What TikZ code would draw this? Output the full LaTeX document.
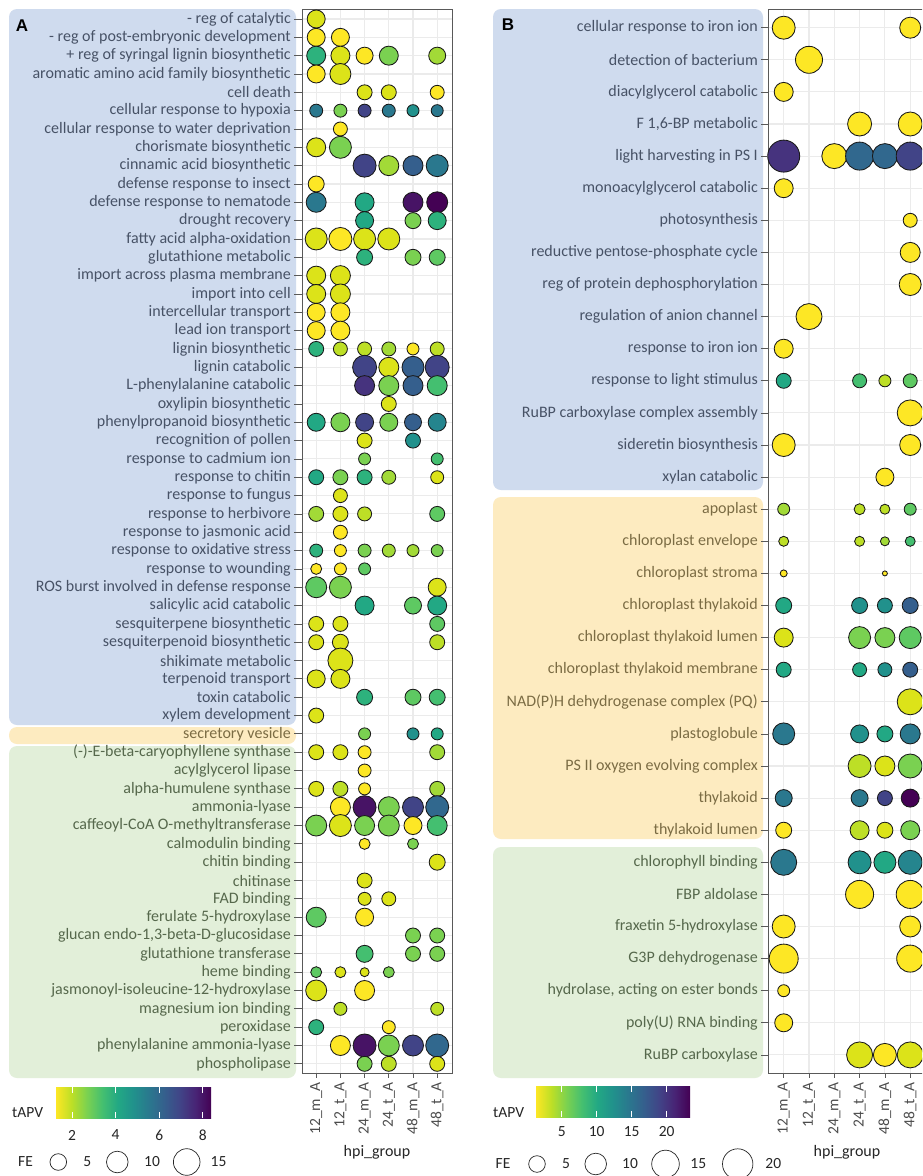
\documentclass[tikz,border=0pt]{standalone}
\usepackage{fontspec}
\setmainfont{Carlito}
\newfontfamily\letterfont{Liberation Sans}
\usepackage{xcolor}
\usepackage{tikz}

\definecolor{v0}{HTML}{FDE725}
\definecolor{vq}{HTML}{DCE319}
\definecolor{v1}{HTML}{BDDF26}
\definecolor{vr}{HTML}{A2DA37}
\definecolor{v2}{HTML}{7AD151}
\definecolor{vs}{HTML}{5EC962}
\definecolor{v3}{HTML}{44BF70}
\definecolor{vt}{HTML}{2DB27D}
\definecolor{v4}{HTML}{22A884}
\definecolor{v5}{HTML}{21918C}
\definecolor{vu}{HTML}{25858E}
\definecolor{v6}{HTML}{2A788E}
\definecolor{vx}{HTML}{31688E}
\definecolor{v7}{HTML}{355F8D}
\definecolor{v8}{HTML}{414487}
\definecolor{vv}{HTML}{46337E}
\definecolor{v9}{HTML}{482475}
\definecolor{vw}{HTML}{471365}
\definecolor{v10}{HTML}{440154}
\definecolor{boxblue}{HTML}{CFDBEE}
\definecolor{boxyellow}{HTML}{FDEBC0}
\definecolor{boxgreen}{HTML}{E2EFD9}
\definecolor{txtblue}{HTML}{475266}
\definecolor{txtyellow}{HTML}{7B6C44}
\definecolor{txtgreen}{HTML}{56684C}
\definecolor{gridgray}{HTML}{EBEBEB}

\pgfdeclarehorizontalshading{viridisr}{100bp}{color(0bp)=(v0); color(25bp)=(v0); color(30bp)=(v1); color(35bp)=(v2); color(40bp)=(v3); color(45bp)=(v4); color(50bp)=(v5); color(55bp)=(v6); color(60bp)=(v7); color(65bp)=(v8); color(70bp)=(v9); color(75bp)=(v10); color(100bp)=(v10)}

\tikzset{bub/.style={circle,draw=black!90,line width=0.85pt,inner sep=0pt},
  key/.style={circle,draw=black!85,line width=0.7pt,inner sep=0pt},
  rowlbl/.style={anchor=east,inner sep=0pt,font=\fontsize{16}{18}\selectfont},
  grplbl/.style={rotate=90,anchor=east,inner sep=0pt,text=black!70,font=\fontsize{15.5}{17}\selectfont},
  lgd/.style={inner sep=0pt,text=black!85,font=\fontsize{15.5}{17}\selectfont},
  gridln/.style={gridgray,line width=1.1pt},
  tickln/.style={black!65,line width=0.8pt},
  frame/.style={draw=black!65,line width=0.8pt},
  band/.style={rounded corners=8pt}}

\newcommand{\bubA}[4]{\node[bub,fill=#4,minimum size=2*#3pt] (a-#1-#2) at ({292+24.2*#2},{0.67+18.33*#1}) {};}
\newcommand{\bubB}[4]{\node[bub,fill=#4,minimum size=2*#3pt] (b-#1-#2) at ({758.4+25.3*#2},{-4.4+32.1*#1}) {};}

\begin{document}
\begin{tikzpicture}[x=1pt,y=-1pt]
    \clip (0,0) rectangle (922,1176);
    \fill[white] (0,0) rectangle (922,1176);

    % group bands
    \fill[band,boxblue] (9,9) rectangle (296,725);
    \fill[band,boxyellow] (9,727) rectangle (296,744);
    \fill[band,boxgreen] (9,746) rectangle (296,1078);
    \fill[band,boxblue] (493,9) rectangle (763,490);
    \fill[band,boxyellow] (493,497) rectangle (763,839);
    \fill[band,boxgreen] (493,847) rectangle (763,1078);

    % grids
    \foreach \c in {1,...,6} \draw[gridln] ({292+24.2*\c},9) -- ({292+24.2*\c},1073);
    \foreach \r in {1,...,58} \draw[gridln] (302,{0.67+18.33*\r}) -- (452,{0.67+18.33*\r});
    \foreach \c in {1,...,6} \draw[gridln] ({758.4+25.3*\c},9) -- ({758.4+25.3*\c},1073);
    \foreach \r in {1,...,33} \draw[gridln] (768,{-4.4+32.1*\r}) -- (940,{-4.4+32.1*\r});
    \draw[frame] (302,9) rectangle (452,1073);
    \draw[frame] (768,9) rectangle (940,1073);

    % panel A bubbles
    \bubA{1}{1}{9}{vq}
    \bubA{2}{1}{9}{v0} \bubA{2}{2}{9}{v0}
    \bubA{3}{1}{9.5}{vt} \bubA{3}{2}{9.5}{vq} \bubA{3}{3}{8.5}{v0} \bubA{3}{4}{9.5}{v2} \bubA{3}{6}{8.5}{vr}
    \bubA{4}{1}{9}{v0} \bubA{4}{2}{10.5}{vq}
    \bubA{5}{3}{7.5}{vq} \bubA{5}{4}{7.5}{vq} \bubA{5}{6}{7}{v0}
    \bubA{6}{1}{6.5}{v6} \bubA{6}{2}{6.5}{v2} \bubA{6}{3}{6.5}{v8} \bubA{6}{4}{6.5}{v6} \bubA{6}{5}{6}{v5} \bubA{6}{6}{6}{v6}
    \bubA{7}{2}{7}{v0}
    \bubA{8}{1}{9.5}{vq} \bubA{8}{2}{11}{v2}
    \bubA{9}{3}{11.5}{v8} \bubA{9}{4}{10}{vr} \bubA{9}{5}{10}{v7} \bubA{9}{6}{11}{v6}
    \bubA{10}{1}{8}{v0}
    \bubA{11}{1}{10}{v6} \bubA{11}{3}{9.5}{v4} \bubA{11}{5}{10}{vw} \bubA{11}{6}{10.5}{v10}
    \bubA{12}{3}{9}{v4} \bubA{12}{5}{8}{v2} \bubA{12}{6}{9}{vt}
    \bubA{13}{1}{11}{vq} \bubA{13}{2}{11.5}{v0} \bubA{13}{3}{11}{vq} \bubA{13}{4}{11}{vq}
    \bubA{14}{3}{8}{vt} \bubA{14}{5}{8}{v2} \bubA{14}{6}{8}{vs}
    \bubA{15}{1}{9.5}{vq} \bubA{15}{2}{10}{vq}
    \bubA{16}{1}{9.5}{vq} \bubA{16}{2}{10}{vq}
    \bubA{17}{1}{9}{v0} \bubA{17}{2}{9.5}{v0}
    \bubA{18}{1}{9}{v0} \bubA{18}{2}{9.5}{v0}
    \bubA{19}{1}{7.5}{vt} \bubA{19}{2}{7}{v1} \bubA{19}{3}{7}{v1} \bubA{19}{4}{7}{vr} \bubA{19}{5}{6}{v0} \bubA{19}{6}{7}{v1}
    \bubA{20}{3}{12}{v8} \bubA{20}{4}{10}{vq} \bubA{20}{5}{11}{v7} \bubA{20}{6}{12}{v8}
    \bubA{21}{3}{10}{vv} \bubA{21}{4}{10}{v2} \bubA{21}{5}{10}{v7} \bubA{21}{6}{10}{v3}
    \bubA{22}{4}{7.5}{vq}
    \bubA{23}{1}{9}{v4} \bubA{23}{2}{9.5}{v2} \bubA{23}{3}{9}{v8} \bubA{23}{4}{9}{v2} \bubA{23}{5}{8.5}{v7} \bubA{23}{6}{9}{vu}
    \bubA{24}{3}{7.5}{vq} \bubA{24}{5}{7.5}{v5}
    \bubA{25}{3}{6}{v2} \bubA{25}{6}{6}{v3}
    \bubA{26}{1}{7.5}{v4} \bubA{26}{2}{7.5}{v2} \bubA{26}{3}{7.5}{vt} \bubA{26}{4}{7}{vr} \bubA{26}{6}{6.5}{vq}
    \bubA{27}{2}{7}{vq}
    \bubA{28}{1}{7.5}{vr} \bubA{28}{2}{7.5}{vq} \bubA{28}{3}{7}{v1} \bubA{28}{6}{7.5}{vs}
    \bubA{29}{2}{7}{v0}
    \bubA{30}{1}{6.5}{vt} \bubA{30}{2}{6}{v0} \bubA{30}{3}{6.5}{v2} \bubA{30}{4}{6.5}{vr} \bubA{30}{5}{6}{vr} \bubA{30}{6}{6}{v2}
    \bubA{31}{1}{5.5}{v0} \bubA{31}{2}{6}{v0} \bubA{31}{3}{6}{vs}
    \bubA{32}{1}{10.5}{vs} \bubA{32}{2}{11}{v2} \bubA{32}{6}{9}{vq}
    \bubA{33}{3}{9.5}{v4} \bubA{33}{5}{8.5}{vs} \bubA{33}{6}{9.5}{v4}
    \bubA{34}{1}{7.5}{vq} \bubA{34}{2}{7.5}{vq} \bubA{34}{6}{7.5}{vs}
    \bubA{35}{1}{7.5}{vq} \bubA{35}{2}{8}{vq} \bubA{35}{6}{7.5}{v1}
    \bubA{36}{2}{12.5}{vq}
    \bubA{37}{1}{9}{vq} \bubA{37}{2}{9.5}{vq}
    \bubA{38}{3}{8}{vt} \bubA{38}{5}{8}{vs} \bubA{38}{6}{8}{v3}
    \bubA{39}{1}{7.5}{vq}
    \bubA{40}{3}{6}{v2} \bubA{40}{5}{6}{v5} \bubA{40}{6}{6}{v4}
    \bubA{41}{1}{7.5}{vq} \bubA{41}{2}{7.5}{vq} \bubA{41}{3}{6.5}{v0} \bubA{41}{6}{7.5}{vr}
    \bubA{42}{3}{6.5}{v0}
    \bubA{43}{1}{7.5}{vq} \bubA{43}{2}{7.5}{v1} \bubA{43}{3}{6}{v0} \bubA{43}{6}{7.5}{vr}
    \bubA{44}{2}{10}{v0} \bubA{44}{3}{11.5}{vw} \bubA{44}{4}{10.5}{v2} \bubA{44}{5}{10.5}{v8} \bubA{44}{6}{11.5}{vx}
    \bubA{45}{1}{10.5}{v2} \bubA{45}{2}{11}{vq} \bubA{45}{3}{10}{v2} \bubA{45}{4}{10.5}{v2} \bubA{45}{5}{9}{v0} \bubA{45}{6}{10}{v3}
    \bubA{46}{3}{5.5}{v0} \bubA{46}{5}{5.5}{v2}
    \bubA{47}{6}{8}{vq}
    \bubA{48}{3}{7.5}{vq}
    \bubA{49}{3}{6.5}{vq} \bubA{49}{4}{7}{vq}
    \bubA{50}{1}{10}{vs} \bubA{50}{3}{9}{v0}
    \bubA{51}{5}{7.5}{v2} \bubA{51}{6}{7.5}{v2}
    \bubA{52}{3}{8.5}{v3} \bubA{52}{5}{7.5}{v2} \bubA{52}{6}{7.5}{v2}
    \bubA{53}{1}{5.5}{vs} \bubA{53}{2}{5.5}{vq} \bubA{53}{3}{4.5}{vq} \bubA{53}{4}{5.5}{v2}
    \bubA{54}{1}{10.5}{vq} \bubA{54}{3}{10}{v0}
    \bubA{55}{2}{6.5}{v1} \bubA{55}{6}{6.5}{v1}
    \bubA{56}{1}{7.5}{vt} \bubA{56}{4}{6.5}{v0}
    \bubA{57}{2}{10}{v0} \bubA{57}{3}{11.5}{vw} \bubA{57}{4}{10.5}{v2} \bubA{57}{5}{10.5}{v8} \bubA{57}{6}{11.5}{vx}
    \bubA{58}{3}{7.5}{v2} \bubA{58}{4}{7.5}{v1} \bubA{58}{6}{7.5}{vq}

    % panel B bubbles
    \bubB{1}{1}{11.5}{v0} \bubB{1}{6}{10.5}{v0}
    \bubB{2}{2}{13.5}{v0}
    \bubB{3}{1}{9.5}{v0}
    \bubB{4}{4}{12}{v0} \bubB{4}{6}{12}{v0}
    \bubB{5}{1}{16}{vv} \bubB{5}{3}{12.5}{v0} \bubB{5}{4}{14}{vx} \bubB{5}{5}{12.5}{vx} \bubB{5}{6}{14}{v8}
    \bubB{6}{1}{9.5}{v0}
    \bubB{7}{6}{7}{v0}
    \bubB{8}{6}{10}{v0}
    \bubB{9}{6}{11}{v0}
    \bubB{10}{2}{13}{v0}
    \bubB{11}{1}{9.5}{v0}
    \bubB{12}{1}{7.5}{v4} \bubB{12}{4}{7}{v3} \bubB{12}{5}{6}{v1} \bubB{12}{6}{7}{vs}
    \bubB{13}{6}{13}{v0}
    \bubB{14}{1}{11.5}{v0} \bubB{14}{6}{10.5}{v0}
    \bubB{15}{5}{9}{v0}
    \bubB{16}{1}{6}{vr} \bubB{16}{4}{5.5}{v1} \bubB{16}{5}{5}{v1} \bubB{16}{6}{6}{vs}
    \bubB{17}{1}{5}{v1} \bubB{17}{4}{5}{v1} \bubB{17}{5}{4.5}{vr} \bubB{17}{6}{5}{v3}
    \bubB{18}{1}{3.5}{v0} \bubB{18}{5}{2.5}{v0}
    \bubB{19}{1}{8}{v4} \bubB{19}{4}{8}{v5} \bubB{19}{5}{7.5}{v5} \bubB{19}{6}{8}{v7}
    \bubB{20}{1}{9.5}{vq} \bubB{20}{4}{11}{v2} \bubB{20}{5}{10}{v2} \bubB{20}{6}{11}{vs}
    \bubB{21}{1}{7.5}{v4} \bubB{21}{4}{7}{v4} \bubB{21}{5}{7}{v5} \bubB{21}{6}{7.5}{v7}
    \bubB{22}{6}{13}{vq}
    \bubB{23}{1}{11}{v6} \bubB{23}{4}{9}{v5} \bubB{23}{5}{8}{v4} \bubB{23}{6}{10}{v6}
    \bubB{24}{4}{11.5}{v1} \bubB{24}{5}{10}{vq} \bubB{24}{6}{12}{v2}
    \bubB{25}{1}{8.5}{v6} \bubB{25}{4}{8.5}{v6} \bubB{25}{5}{7.5}{v8} \bubB{25}{6}{9}{v10}
    \bubB{26}{1}{8}{v0} \bubB{26}{4}{9.5}{v1} \bubB{26}{5}{8}{vq} \bubB{26}{6}{9.5}{v2}
    \bubB{27}{1}{13}{v6} \bubB{27}{4}{11.5}{v5} \bubB{27}{5}{11}{v4} \bubB{27}{6}{12}{vu}
    \bubB{28}{4}{14}{v0} \bubB{28}{6}{14}{v0}
    \bubB{29}{1}{11.5}{v0} \bubB{29}{6}{10.5}{v0}
    \bubB{30}{1}{14.5}{v0} \bubB{30}{6}{13.5}{v0}
    \bubB{31}{1}{6}{v0}
    \bubB{32}{1}{9}{v0}
    \bubB{33}{4}{13}{vq} \bubB{33}{5}{11.5}{v0} \bubB{33}{6}{13}{vq}

    % row labels, panel A
    \foreach \t [count=\i] in {- reg of catalytic, - reg of post-embryonic development, + reg of syringal lignin biosynthetic, aromatic amino acid family biosynthetic, cell death, cellular response to hypoxia, cellular response to water deprivation, chorismate biosynthetic, cinnamic acid biosynthetic, defense response to insect, defense response to nematode, drought recovery, fatty acid alpha-oxidation, glutathione metabolic, import across plasma membrane, import into cell, intercellular transport, lead ion transport, lignin biosynthetic, lignin catabolic, L-phenylalanine catabolic, oxylipin biosynthetic, phenylpropanoid biosynthetic, recognition of pollen, response to cadmium ion, response to chitin, response to fungus, response to herbivore, response to jasmonic acid, response to oxidative stress, response to wounding, ROS burst involved in defense response, salicylic acid catabolic, sesquiterpene biosynthetic, sesquiterpenoid biosynthetic, shikimate metabolic, terpenoid transport, toxin catabolic, xylem development}
        \node[rowlbl,text=txtblue] (la-\i) at (291,{0.67+18.33*\i}) {\t};
    \foreach \t [count=\i from 40] in {secretory vesicle}
        \node[rowlbl,text=txtyellow] (la-\i) at (291,{0.67+18.33*\i}) {\t};
    \foreach \t [count=\i from 41] in {{(-)-E-beta-caryophyllene synthase}, acylglycerol lipase, alpha-humulene synthase, ammonia-lyase, caffeoyl-CoA O-methyltransferase, calmodulin binding, chitin binding, chitinase, FAD binding, ferulate 5-hydroxylase, {glucan endo-1,3-beta-D-glucosidase}, glutathione transferase, heme binding, jasmonoyl-isoleucine-12-hydroxylase, magnesium ion binding, peroxidase, phenylalanine ammonia-lyase, phospholipase}
        \node[rowlbl,text=txtgreen] (la-\i) at (291,{0.67+18.33*\i}) {\t};
    \foreach \i in {1,...,58} \draw[tickln] (294,{0.67+18.33*\i}) -- (302,{0.67+18.33*\i});

    % row labels, panel B
    \foreach \t [count=\i] in {cellular response to iron ion, detection of bacterium, diacylglycerol catabolic, {F 1,6-BP metabolic}, light harvesting in PS I, monoacylglycerol catabolic, photosynthesis, reductive pentose-phosphate cycle, reg of protein dephosphorylation, regulation of anion channel, response to iron ion, response to light stimulus, RuBP carboxylase complex assembly, sideretin biosynthesis, xylan catabolic}
        \node[rowlbl,text=txtblue] (lb-\i) at (758,{-4.4+32.1*\i}) {\t};
    \foreach \t [count=\i from 16] in {apoplast, chloroplast envelope, chloroplast stroma, chloroplast thylakoid, chloroplast thylakoid lumen, chloroplast thylakoid membrane, {NAD(P)H dehydrogenase complex (PQ)}, plastoglobule, PS II oxygen evolving complex, thylakoid, thylakoid lumen}
        \node[rowlbl,text=txtyellow] (lb-\i) at (758,{-4.4+32.1*\i}) {\t};
    \foreach \t [count=\i from 27] in {chlorophyll binding, FBP aldolase, fraxetin 5-hydroxylase, G3P dehydrogenase, {hydrolase, acting on ester bonds}, poly(U) RNA binding, RuBP carboxylase}
        \node[rowlbl,text=txtgreen] (lb-\i) at (758,{-4.4+32.1*\i}) {\t};
    \foreach \i in {1,...,33} \draw[tickln] (761,{-4.4+32.1*\i}) -- (768,{-4.4+32.1*\i});

    % x axis
    \foreach \g [count=\c] in {12\_m\_A, 12\_t\_A, 24\_m\_A, 24\_t\_A, 48\_m\_A, 48\_t\_A} {
        \draw[tickln] ({292+24.2*\c},1073) -- ({292+24.2*\c},1078);
        \node[grplbl] (ga-\c) at ({292+24.2*\c},1082) {\g};
        \draw[tickln] ({758.4+25.3*\c},1073) -- ({758.4+25.3*\c},1078);
        \node[grplbl] (gb-\c) at ({758.4+25.3*\c},1082) {\g};
    }
    \node[lgd,font=\fontsize{16}{18}\selectfont] (hpia) at (377,1152) {hpi\_group};
    \node[lgd,font=\fontsize{16}{18}\selectfont] (hpib) at (847,1152) {hpi\_group};

    % panel letters
    \node[font=\letterfont\bfseries\fontsize{17}{19}\selectfont] (pa) at (22,26) {A};
    \node[font=\letterfont\bfseries\fontsize{17}{19}\selectfont] (pb) at (508,25) {B};

    % legend A
    \node[lgd,anchor=west] (tapva) at (12,1113) {tAPV};
    \shade[shading=viridisr] (56,1087) rectangle (211,1118);
    \foreach \v in {2,4,6,8} {
        \draw[white,line width=0.8pt] ({28.4+21.8*\v},1087) -- ({28.4+21.8*\v},1093);
        \draw[white,line width=0.8pt] ({28.4+21.8*\v},1118) -- ({28.4+21.8*\v},1112);
        \node[lgd] (ta-\v) at ({28.4+21.8*\v},1135) {\v};
    }
    \node[lgd] (fea) at (25.5,1162) {FE};
    \node[key,minimum size=16.6pt] (ka-1) at (58.3,1162) {};
    \node[lgd] (na-1) at (87.3,1162) {5};
    \node[key,minimum size=21.6pt] (ka-2) at (117.3,1162) {};
    \node[lgd] (na-2) at (152,1162) {10};
    \node[key,minimum size=26.6pt] (ka-3) at (186.7,1162) {};
    \node[lgd] (na-3) at (218.5,1162) {15};

    % legend B
    \node[lgd,anchor=west] (tapvb) at (493,1113) {tAPV};
    \shade[shading=viridisr] (536,1086) rectangle (690,1117);
    \foreach \v in {5,10,15,20} {
        \draw[white,line width=0.8pt] ({526.7+7*\v},1086) -- ({526.7+7*\v},1092);
        \draw[white,line width=0.8pt] ({526.7+7*\v},1117) -- ({526.7+7*\v},1111);
        \node[lgd] (tb-\v) at ({526.7+7*\v},1132) {\v};
    }
    \node[lgd] (feb) at (503,1164) {FE};
    \node[key,minimum size=16.6pt] (kb-1) at (537,1164) {};
    \node[lgd] (nb-1) at (566,1164) {5};
    \node[key,minimum size=21.6pt] (kb-2) at (595.7,1164) {};
    \node[lgd] (nb-2) at (630,1164) {10};
    \node[key,minimum size=27.6pt] (kb-3) at (665.5,1164) {};
    \node[lgd] (nb-3) at (698.3,1164) {15};
    \node[key,minimum size=30.4pt] (kb-4) at (737.7,1164) {};
    \node[lgd] (nb-4) at (773.3,1164) {20};
\end{tikzpicture}
\end{document}
